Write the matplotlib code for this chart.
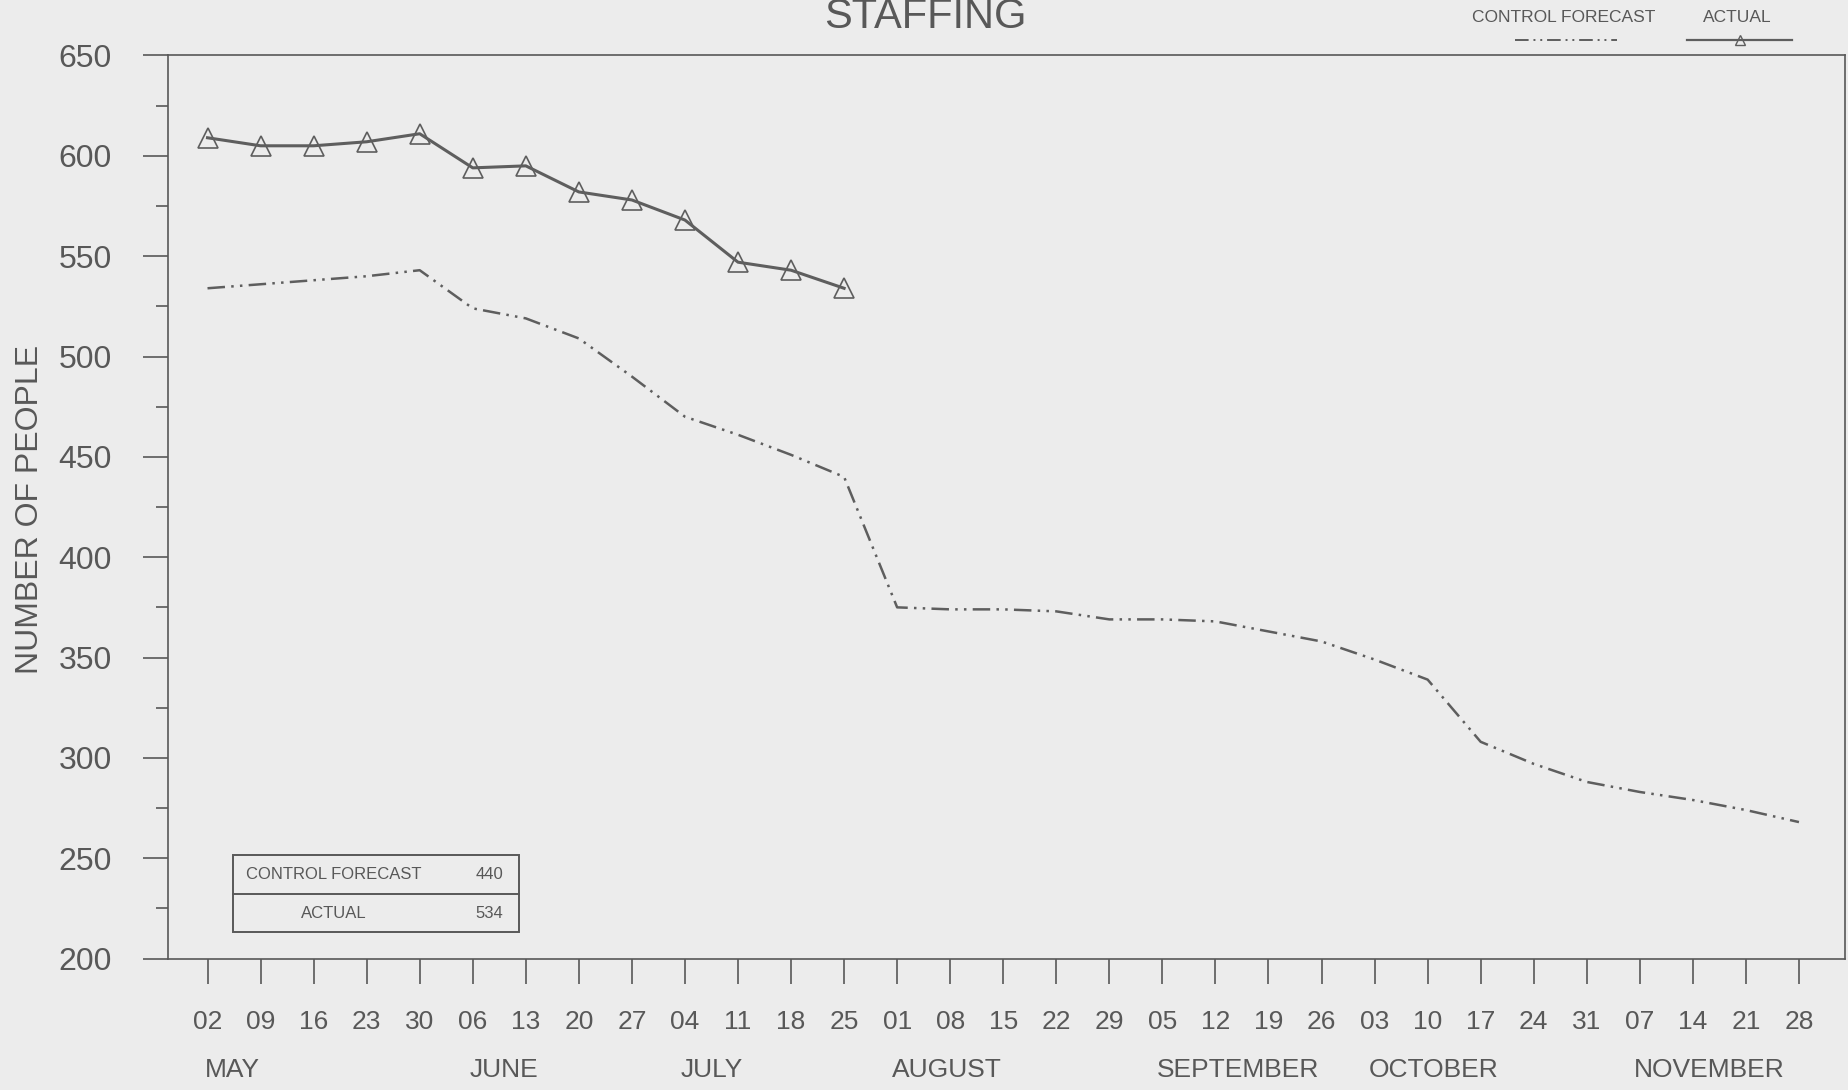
import matplotlib
matplotlib.use("Agg")
import matplotlib.pyplot as plt
from matplotlib import font_manager
from matplotlib.patches import Rectangle
from matplotlib.lines import Line2D
from matplotlib.ticker import MultipleLocator

# ---------------- data ----------------
week_labels = ["02", "09", "16", "23", "30", "06", "13", "20", "27", "04", "11",
               "18", "25", "01", "08", "15", "22", "29", "05", "12", "19", "26",
               "03", "10", "17", "24", "31", "07", "14", "21", "28"]
months = ["MAY", "JUNE", "JULY", "AUGUST", "SEPTEMBER", "OCTOBER", "NOVEMBER"]

control_forecast = [534, 536, 538, 540, 543, 524, 519, 509, 490, 470, 461, 451, 440,
                    375, 374, 374, 373, 369, 369, 368, 363, 358, 349, 339, 308,
                    297, 288, 283, 279, 274, 268]
actual = [609, 605, 605, 607, 611, 594, 595, 582, 578, 568, 547, 543, 534]

# ---------------- layout / style ----------------
month_pos = [0.46, 5.58, 9.51, 13.93, 19.42, 23.11, 28.31]

names = {f.name for f in font_manager.fontManager.ttflist}
if "Liberation Sans Narrow" in names:
    narrow = "Liberation Sans Narrow"
    tick_fs, title_fs = 22, 36
else:
    narrow = "Liberation Sans"
    tick_fs, title_fs = 19, 30
regular = "Liberation Sans"

bg = "#ececec"
ink = "#585858"
line_c = "#5e5e5e"
fc_dash = (7, 2.5, 1, 2.5, 1, 2.5)

fig = plt.figure(figsize=(18.49, 10.90), dpi=100, facecolor=bg)
ax = fig.add_axes([0.0906, 0.1206, 0.9073, 0.8285], facecolor=bg)

x = list(range(len(week_labels)))
xa = list(range(len(actual)))

ax.plot(x, control_forecast, color=line_c, lw=1.8, dashes=fc_dash)
ax.plot(xa, actual, color=line_c, lw=2.2, marker="^", markersize=15,
        markerfacecolor="none", markeredgecolor=line_c, markeredgewidth=1.2)

ax.set_xlim(-0.754, 30.87)
ax.set_ylim(200, 650)

ax.set_xticks(x)
ax.set_xticklabels(week_labels, family=narrow, fontsize=tick_fs, color=ink)
ax.yaxis.set_major_locator(MultipleLocator(50))
ax.yaxis.set_minor_locator(MultipleLocator(25))
for lab in ax.get_yticklabels():
    lab.set_family(regular)
    lab.set_fontsize(23)
    lab.set_color(ink)

ax.tick_params(axis="x", direction="out", length=18, width=1.2, color=ink, pad=19)
ax.tick_params(axis="y", which="major", direction="out", length=18, width=1.2,
               color=ink, pad=22)
ax.tick_params(axis="y", which="minor", direction="out", length=9, width=1.2,
               color=ink)
ax.tick_params(axis="x", which="minor", bottom=False)

for s in ax.spines.values():
    s.set_color(ink)
    s.set_linewidth(1.2)

# month labels
trans = matplotlib.transforms.blended_transform_factory(ax.transData, fig.transFigure)
for m, p in zip(months, month_pos):
    ax.text(p, 1 - 1070 / 1090, m, transform=trans, ha="center", va="center",
            family=narrow, fontsize=tick_fs, color=ink, clip_on=False)

# title
fig.text(0.5006, 1 - 28 / 1090, "STAFFING", ha="center", va="baseline",
         family=narrow, fontsize=title_fs, color=ink)

# y label
fig.text(0.016, 0.533, "NUMBER OF PEOPLE", rotation=90, ha="center", va="center",
         family=regular, fontsize=23, color=ink)

# top-right legend
fig.text(1564 / 1849, 1 - 18 / 1090, "CONTROL FORECAST", ha="center", va="center",
         family=regular, fontsize=12.5, color=ink)
fig.text(1737 / 1849, 1 - 18 / 1090, "ACTUAL", ha="center", va="center",
         family=regular, fontsize=12.5, color=ink)
fig.add_artist(Line2D([1515 / 1849, 1617 / 1849], [1 - 40 / 1090, 1 - 40 / 1090],
                      transform=fig.transFigure, color=line_c, lw=1.4,
                      dashes=fc_dash))
fig.add_artist(Line2D([1687 / 1849, 1792 / 1849], [1 - 40 / 1090, 1 - 40 / 1090],
                      transform=fig.transFigure, color=line_c, lw=1.6))
fig.add_artist(Line2D([1740 / 1849], [1 - 40 / 1090], transform=fig.transFigure,
                      marker="^", markersize=7, color=line_c,
                      markerfacecolor="none", markeredgecolor=line_c))

# summary table box inside plot
last = len(actual) - 1
ax.add_patch(Rectangle((0.48, 213), 5.39, 38.5, fill=False, edgecolor=ink, lw=1.4))
ax.plot([0.48, 5.87], [232.3, 232.3], color=ink, lw=1.4)
ax.text(2.38, 242, "CONTROL FORECAST", ha="center", va="center",
        family=regular, fontsize=12, color=ink)
ax.text(5.31, 242, f"{control_forecast[last]}", ha="center", va="center",
        family=regular, fontsize=12, color=ink)
ax.text(2.38, 222.6, "ACTUAL", ha="center", va="center",
        family=regular, fontsize=12, color=ink)
ax.text(5.31, 222.6, f"{actual[last]}", ha="center", va="center",
        family=regular, fontsize=12, color=ink)

fig.savefig("out.png", dpi=100, facecolor=bg)
